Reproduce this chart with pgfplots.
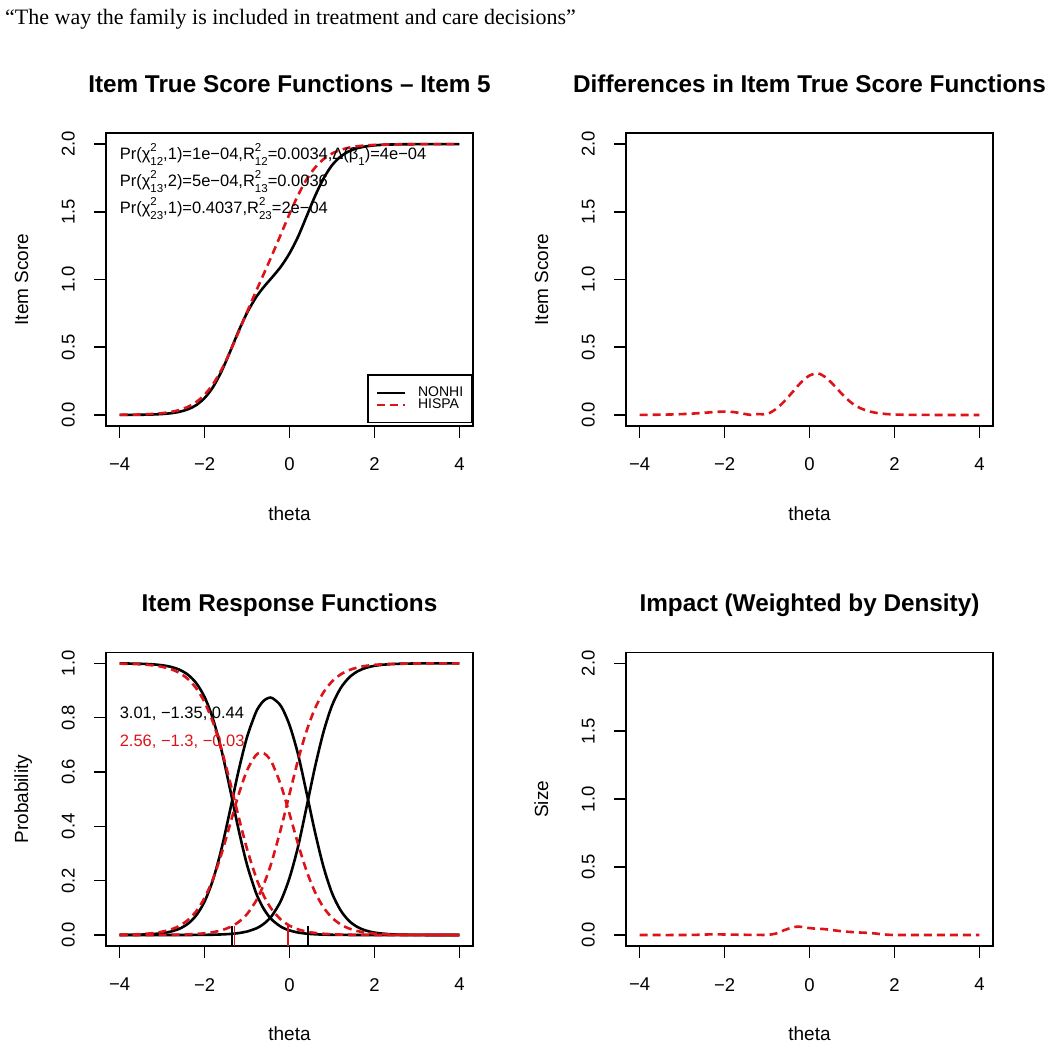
\documentclass[border=0pt]{standalone}
\usepackage{fontspec}
\setmainfont{Liberation Sans}
\newfontfamily\headfont{Liberation Serif}
\usepackage{pgfplots}
\usepackage{pgfplotstable}
\pgfplotsset{compat=1.18}
\definecolor{rred}{RGB}{220,20,25}

\pgfplotstableread{
th Eb Er D P0b Pmb P2b P0r Pmr P2r
-4.0 0.0003 0.0010 0.0007 0.9997 0.0003 0.0000 0.9990 0.0010 0.0000
-3.8 0.0006 0.0017 0.0011 0.9994 0.0006 0.0000 0.9983 0.0016 0.0001
-3.6 0.0011 0.0029 0.0017 0.9989 0.0011 0.0000 0.9972 0.0027 0.0001
-3.4 0.0021 0.0048 0.0027 0.9979 0.0021 0.0000 0.9954 0.0044 0.0002
-3.2 0.0038 0.0080 0.0041 0.9962 0.0038 0.0000 0.9923 0.0074 0.0003
-3.0 0.0070 0.0132 0.0063 0.9931 0.0069 0.0000 0.9873 0.0122 0.0005
-2.8 0.0126 0.0219 0.0093 0.9874 0.0125 0.0001 0.9790 0.0202 0.0008
-2.6 0.0228 0.0360 0.0132 0.9773 0.0226 0.0001 0.9654 0.0332 0.0014
-2.4 0.0409 0.0588 0.0179 0.9593 0.0405 0.0002 0.9435 0.0542 0.0023
-2.2 0.0722 0.0946 0.0224 0.9281 0.0715 0.0004 0.9092 0.0869 0.0039
-2.0 0.1245 0.1492 0.0247 0.8762 0.1232 0.0007 0.8572 0.1364 0.0064
-1.8 0.2063 0.2282 0.0219 0.7949 0.2040 0.0012 0.7825 0.2069 0.0107
-1.6 0.3224 0.3346 0.0122 0.6797 0.3181 0.0022 0.6830 0.2993 0.0177
-1.4 0.4664 0.4655 0.0009 0.5376 0.4585 0.0039 0.5637 0.4072 0.0291
-1.2 0.6181 0.6113 0.0068 0.3890 0.6039 0.0071 0.4364 0.5160 0.0476
-1.0 0.7544 0.7601 0.0057 0.2586 0.7285 0.0129 0.3170 0.6060 0.0771
-0.8 0.8630 0.9047 0.0417 0.1604 0.8163 0.0234 0.2176 0.6602 0.1223
-0.7 0.9075 0.9754 0.0679 0.1239 0.8448 0.0313 0.1771 0.6704 0.1525
-0.6 0.9472 1.0458 0.0986 0.0947 0.8634 0.0419 0.1428 0.6686 0.1886
-0.5 0.9839 1.1167 0.1328 0.0719 0.8724 0.0558 0.1143 0.6548 0.2309
-0.4 1.0197 1.1887 0.1690 0.0542 0.8719 0.0739 0.0908 0.6298 0.2795
-0.2 1.0967 1.3364 0.2397 0.0304 0.8424 0.1272 0.0565 0.5507 0.3929
0.0 1.1932 1.4846 0.2914 0.0169 0.7730 0.2101 0.0346 0.4462 0.5192
0.2 1.3153 1.6220 0.3068 0.0093 0.6661 0.3246 0.0210 0.3359 0.6431
0.4 1.4648 1.7377 0.2729 0.0051 0.5249 0.4699 0.0127 0.2368 0.7505
0.6 1.6153 1.8261 0.2108 0.0028 0.3791 0.6181 0.0077 0.1585 0.8338
0.8 1.7456 1.8887 0.1431 0.0015 0.2513 0.7472 0.0046 0.1021 0.8933
1.0 1.8435 1.9304 0.0869 0.0009 0.1548 0.8444 0.0028 0.0640 0.9332
1.2 1.9074 1.9572 0.0498 0.0005 0.0917 0.9078 0.0017 0.0395 0.9589
1.4 1.9471 1.9739 0.0269 0.0003 0.0524 0.9473 0.0010 0.0241 0.9749
1.6 1.9703 1.9842 0.0139 0.0001 0.0294 0.9705 0.0006 0.0146 0.9848
1.8 1.9835 1.9905 0.0070 0.0001 0.0163 0.9836 0.0004 0.0088 0.9909
2.0 1.9909 1.9943 0.0034 0.0000 0.0090 0.9910 0.0002 0.0053 0.9945
2.2 1.9950 1.9966 0.0016 0.0000 0.0050 0.9950 0.0001 0.0032 0.9967
2.4 1.9973 1.9980 0.0007 0.0000 0.0027 0.9973 0.0001 0.0019 0.9980
2.6 1.9985 1.9988 0.0003 0.0000 0.0015 0.9985 0.0000 0.0011 0.9988
2.8 1.9992 1.9993 0.0001 0.0000 0.0008 0.9992 0.0000 0.0007 0.9993
3.0 1.9996 1.9996 0.0000 0.0000 0.0005 0.9996 0.0000 0.0004 0.9996
3.2 1.9998 1.9997 0.0000 0.0000 0.0003 0.9998 0.0000 0.0003 0.9997
3.4 1.9999 1.9998 0.0000 0.0000 0.0001 0.9999 0.0000 0.0002 0.9998
3.6 1.9999 1.9999 0.0000 0.0000 0.0001 0.9999 0.0000 0.0001 0.9999
3.8 2.0000 1.9999 0.0000 0.0000 0.0000 1.0000 0.0000 0.0000 1.0000
4.0 2.0000 2.0000 0.0000 0.0000 0.0000 1.0000 0.0000 0.0000 1.0000
}\irt

\pgfplotstableread{
th imp
-4.0 0.000
-3.0 0.000
-2.6 0.002
-2.3 0.005
-2.0 0.004
-1.6 0.002
-1.2 0.001
-1.0 0.001
-0.8 0.010
-0.6 0.035
-0.4 0.056
-0.25 0.062
-0.1 0.055
0.1 0.048
0.3 0.045
0.5 0.038
0.7 0.030
0.9 0.024
1.1 0.020
1.3 0.017
1.5 0.013
1.7 0.006
1.9 0.001
2.2 0.000
3.0 0.000
4.0 0.000
}\impact

\newcommand{\ssz}{\fontsize{11.5}{12}\selectfont}
\newcommand{\supsub}[2]{\makebox[0pt][l]{\raisebox{0.5em}{\ssz #1}}\raisebox{-0.35em}{\ssz #2}}
\newcommand{\sbs}[1]{\raisebox{-0.35em}{\ssz #1}}

\pgfplotsset{rstyle/.style={
  anchor=south west, scale only axis, width=367pt, height=292.5pt,
  xmin=-4.32, xmax=4.32,
  xtick={-4,-2,0,2,4}, xticklabels={−4,−2,0,2,4},
  tick align=outside, tick pos=left, major tick length=12pt,
  axis line style={line width=1.6pt},
  major tick style={line width=1.6pt, black},
  tick label style={font=\fontsize{18.5}{20}\selectfont},
  xticklabel style={anchor=north, inner sep=0pt, yshift=-20pt},
  yticklabel style={xshift=-19pt, rotate=90, anchor=south, inner sep=0pt},
}}
\tikzset{bl/.style={black, line width=2.6pt, smooth},
         rd/.style={rred, line width=2.6pt, smooth, dash pattern=on 8pt off 5pt}}

\begin{document}
\begin{tikzpicture}
\useasboundingbox (0,0) rectangle (1050pt,1050pt);

% top-left
\begin{axis}[rstyle, at={(106pt,624.2pt)},
  ymin=-0.08, ymax=2.08, ytick={0,0.5,1,1.5,2}, yticklabels={0.0,0.5,1.0,1.5,2.0},
  legend style={at={(1,0)}, anchor=south east, yshift=2.5pt, draw=black, line width=1.6pt,
    font=\fontsize{14}{14}\selectfont, inner xsep=8pt, inner ysep=11pt, row sep=-1pt,
    nodes={inner sep=1pt}, cells={anchor=west},
    /tikz/every odd column/.append style={column sep=11pt}},
  legend image code/.code={\draw[#1, line width=2pt] (0pt,0pt) -- (28pt,0pt);}]
\addplot[bl] table[x=th,y=Eb]{\irt};
\addlegendentry{NONHI}
\addplot[rd] table[x=th,y=Er]{\irt};
\addlegendentry{HISPA}
\node[anchor=base west, inner sep=0pt, font=\fontsize{16.5}{18}\selectfont] at (axis cs:-4,1.883)
  {Pr(χ\supsub{2}{12},1)=1e−04,R\supsub{2}{12}=0.0034,Δ(β\sbs{1})=4e−04};
\node[anchor=base west, inner sep=0pt, font=\fontsize{16.5}{18}\selectfont] at (axis cs:-4,1.686)
  {Pr(χ\supsub{2}{13},2)=5e−04,R\supsub{2}{13}=0.0036};
\node[anchor=base west, inner sep=0pt, font=\fontsize{16.5}{18}\selectfont] at (axis cs:-4,1.489)
  {Pr(χ\supsub{2}{23},1)=0.4037,R\supsub{2}{23}=2e−04};
\end{axis}

% top-right
\begin{axis}[rstyle, at={(626pt,624.2pt)},
  ymin=-0.08, ymax=2.08, ytick={0,0.5,1,1.5,2}, yticklabels={0.0,0.5,1.0,1.5,2.0}]
\addplot[rd] table[x=th,y=D]{\irt};
\end{axis}

% bottom-left
\begin{axis}[rstyle, at={(106pt,104.1pt)}, height=293.4pt,
  ymin=-0.04, ymax=1.04, ytick={0,0.2,0.4,0.6,0.8,1}, yticklabels={0.0,0.2,0.4,0.6,0.8,1.0}]
\addplot[bl] table[x=th,y=P0b]{\irt};
\addplot[bl] table[x=th,y=Pmb]{\irt};
\addplot[bl] table[x=th,y=P2b]{\irt};
\addplot[rd] table[x=th,y=P0r]{\irt};
\addplot[rd] table[x=th,y=Pmr]{\irt};
\addplot[rd] table[x=th,y=P2r]{\irt};
\addplot[black, line width=1.5pt] coordinates {(-1.35,-0.04) (-1.35,0.035)};
\addplot[black, line width=1.5pt] coordinates {(0.44,-0.04) (0.44,0.035)};
\addplot[rred, line width=1.5pt] coordinates {(-1.3,-0.04) (-1.3,0.035)};
\addplot[rred, line width=1.5pt] coordinates {(-0.03,-0.04) (-0.03,0.035)};
\node[anchor=base west, inner sep=0pt, font=\fontsize{16.5}{18}\selectfont] at (axis cs:-4,0.797) {3.01, −1.35, 0.44};
\node[anchor=base west, inner sep=0pt, text=rred, font=\fontsize{16.5}{18}\selectfont] at (axis cs:-4,0.695) {2.56, −1.3, −0.03};
\end{axis}

% bottom-right
\begin{axis}[rstyle, at={(626pt,104.1pt)}, height=293.4pt,
  ymin=-0.08, ymax=2.08, ytick={0,0.5,1,1.5,2}, yticklabels={0.0,0.5,1.0,1.5,2.0}]
\addplot[rd] table[x=th,y=imp]{\impact};
\end{axis}

% texts
\node[anchor=base west, inner sep=0pt, font=\headfont\fontsize{22}{24}\selectfont] at (5pt,1025pt)
  {“The way the family is included in treatment and care decisions”};
\begin{scope}[every node/.style={anchor=base, inner sep=0pt}]
\node[font=\bfseries\fontsize{24.3}{26}\selectfont] at (289.5pt,957.7pt) {Item True Score Functions – Item 5};
\node[font=\bfseries\fontsize{24.3}{26}\selectfont] at (809.5pt,957.7pt) {Differences in Item True Score Functions};
\node[font=\bfseries\fontsize{24.3}{26}\selectfont] at (289.5pt,438.5pt) {Item Response Functions};
\node[font=\bfseries\fontsize{24.3}{26}\selectfont] at (809.5pt,438.5pt) {Impact (Weighted by Density)};
\node[font=\fontsize{19}{20}\selectfont] at (289.5pt,529.2pt) {theta};
\node[font=\fontsize{19}{20}\selectfont] at (809.5pt,529.2pt) {theta};
\node[font=\fontsize{19}{20}\selectfont] at (289.5pt,9.1pt) {theta};
\node[font=\fontsize{19}{20}\selectfont] at (809.5pt,9.1pt) {theta};
\node[font=\fontsize{19}{20}\selectfont, rotate=90] at (28pt,770.5pt) {Item Score};
\node[font=\fontsize{19}{20}\selectfont, rotate=90] at (548pt,770.5pt) {Item Score};
\node[font=\fontsize{19}{20}\selectfont, rotate=90] at (28pt,250.8pt) {Probability};
\node[font=\fontsize{19}{20}\selectfont, rotate=90] at (548pt,250.8pt) {Size};
\end{scope}
\end{tikzpicture}
\end{document}
